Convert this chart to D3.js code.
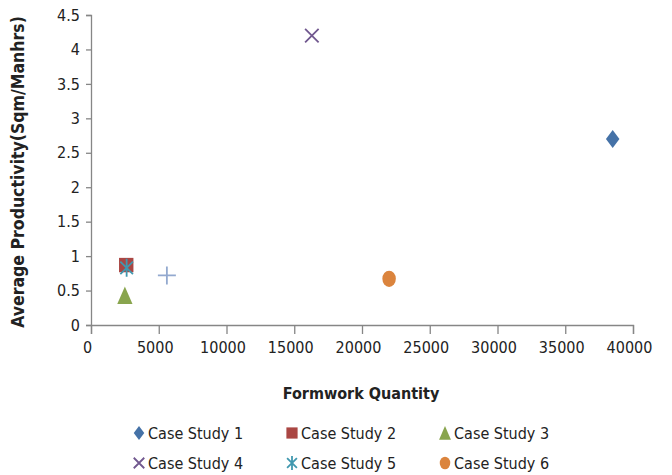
<!DOCTYPE html>
<html><head><meta charset="utf-8">
<script src="https://cdn.jsdelivr.net/npm/d3@7"></script>
<style>
body{margin:0;background:#fff;}
text{font-family:"Liberation Sans Narrow","DejaVu Sans Condensed","Open Sans",sans-serif;}
</style></head>
<body>
<svg id="c" width="672" height="475"></svg>
<script>
const seriesNames = ["Case Study 1","Case Study 2","Case Study 3","Case Study 4","Case Study 5","Case Study 6",""];
const seriesX = [38500, 2600, 2500, 16300, 2630, 22000, 5600];
const seriesY = [2.7, 0.87, 0.43, 4.2, 0.83, 0.67, 0.72];
const seriesColors = ["#4572A7","#AA4643","#89A54E","#71588F","#4198AF","#DB843D","#93A9CF"];
const seriesShapes = ["diamond","square","triangle","x","star","circle","plus"];
const xTicks = [0,5000,10000,15000,20000,25000,30000,35000,40000];
const yTicks = [0,0.5,1,1.5,2,2.5,3,3.5,4,4.5];

const svg = d3.select("#c");
const x = d3.scaleLinear().domain([0,40000]).range([91,633]);
const y = d3.scaleLinear().domain([0,4.5]).range([325,15]);
const axisColor = "#868686";

const gx = svg.append("g").attr("transform","translate(0,325)")
  .call(d3.axisBottom(x).tickValues(xTicks).tickSize(9).tickPadding(8).tickFormat(d3.format("d")));
const gy = svg.append("g").attr("transform","translate(91,0)")
  .call(d3.axisLeft(y).tickValues(yTicks).tickSize(5).tickPadding(6).tickFormat(d=>String(d)));
[gx,gy].forEach(g=>{
  g.select(".domain").attr("stroke",axisColor).attr("stroke-width",1.3);
  g.selectAll(".tick line").attr("stroke",axisColor).attr("stroke-width",1.3);
  g.selectAll(".tick text").attr("fill","#222").style("font-size","16px");
});
gx.selectAll(".tick text").attr("dx",-4);

svg.append("text").attr("x",361).attr("y",399).attr("text-anchor","middle")
  .style("font-size","16px").style("font-weight","bold").attr("fill","#222").text("Formwork Quantity");
svg.append("text").attr("transform","translate(24,172) rotate(-90)").attr("text-anchor","middle")
  .style("font-size","17.5px").style("font-weight","bold").attr("fill","#222").text("Average Productivity(Sqm/Manhrs)");

function drawMarker(g, shape, color, s){
  if(shape==="diamond") g.append("path").attr("d",`M0,${-s}L${s*0.75},0L0,${s}L${-s*0.75},0Z`).attr("fill",color);
  else if(shape==="square") g.append("rect").attr("x",-s*0.8).attr("y",-s*0.8).attr("width",s*1.6).attr("height",s*1.6).attr("fill",color);
  else if(shape==="triangle") g.append("path").attr("d",`M0,${-s}L${s*0.85},${s*0.95}L${-s*0.85},${s*0.95}Z`).attr("fill",color);
  else if(shape==="circle") g.append("ellipse").attr("rx",s*0.75).attr("ry",s*0.9).attr("fill",color);
  else if(shape==="x") g.append("path").attr("d",`M${-s*0.75},${-s*0.75}L${s*0.75},${s*0.75}M${s*0.75},${-s*0.75}L${-s*0.75},${s*0.75}`).attr("stroke",color).attr("stroke-width",1.8).attr("fill","none");
  else if(shape==="star") g.append("path").attr("d",`M${-s*0.7},${-s*0.7}L${s*0.7},${s*0.7}M${s*0.7},${-s*0.7}L${-s*0.7},${s*0.7}M0,${-s}L0,${s}`).attr("stroke",color).attr("stroke-width",1.8).attr("fill","none");
  else if(shape==="plus") g.append("path").attr("d",`M${-s},0L${s},0M0,${-s}L0,${s}`).attr("stroke",color).attr("stroke-width",1.8).attr("fill","none");
}

const order = [0,1,2,3,6,4,5];
order.forEach(i=>{
  const g = svg.append("g").attr("transform",`translate(${x(seriesX[i])},${y(seriesY[i])})`);
  drawMarker(g, seriesShapes[i], seriesColors[i], 9);
});

// legend
const legX = [139,292,445], legY=[433,463];
seriesNames.forEach((n,i)=>{
  if(!n) return;
  const cx = legX[i%3], cy = legY[Math.floor(i/3)];
  const g = svg.append("g").attr("transform",`translate(${cx},${cy})`);
  drawMarker(g, seriesShapes[i], seriesColors[i], 7);
  svg.append("text").attr("x",cx+9).attr("y",cy+6).style("font-size","16px").attr("fill","#222").text(n);
});
</script>
</body></html>
